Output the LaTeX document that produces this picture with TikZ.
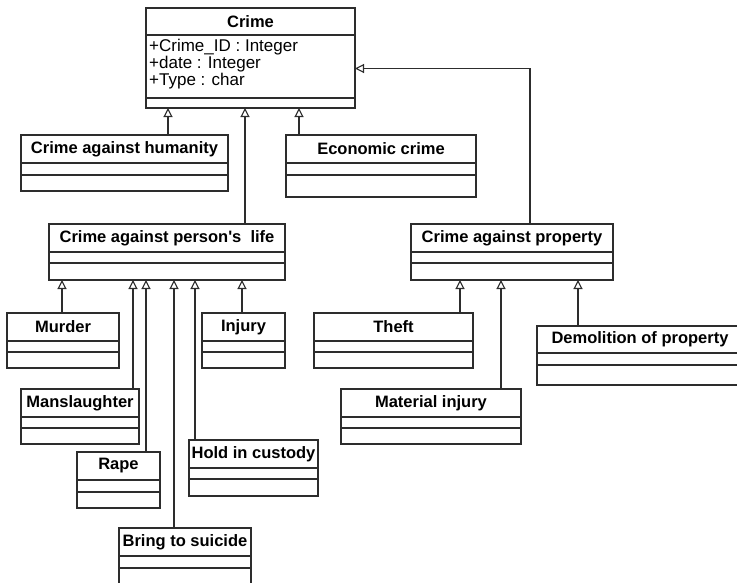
\documentclass[tikz,border=0pt]{standalone}
\usepackage{fontspec}
\setmainfont{Liberation Sans}
\usepackage{tikz}
\usetikzlibrary{arrows.meta, positioning}
\definecolor{umlline}{RGB}{45, 45, 45}
\tikzset{
    classbox/.style={
        rectangle,
        draw=umlline,
        line width=1.3pt,
        fill=white,
        inner sep=0pt,
        outer sep=0pt
    },
    classtitle/.style={
        classbox,
        anchor=north west,
        font=\fontsize{16.5}{18}\selectfont\bfseries
    },
    attrtext/.style={
        inner sep=0pt,
        align=left,
        font=\fontsize{17}{17}\selectfont
    },
    inherit/.style={
        draw=umlline,
        line width=1.3pt,
        -{Triangle[open, length=9pt, width=9pt, line width=1.1pt]}
    }
}
% class box: name, position, width, title height, attr height, op height, title
\newcommand{\umlclass}[7]{%
    \node[classtitle, minimum width=#3, minimum height=#4] (#1) at #2 {#7};
    \node[classbox, minimum width=#3, minimum height=#5, below=0pt of #1] (#1-a) {};
    \node[classbox, minimum width=#3, minimum height=#6, below=0pt of #1-a] (#1-b) {};
}

\begin{document}
\begin{tikzpicture}[x=1pt, y=-1pt]
        \useasboundingbox (0,0) rectangle (737,582);
        \clip (0,0) rectangle (737,582);

        % Root class
        \umlclass{crime}{(146,8)}{209}{27}{63}{10}{Crime}
        \node[attrtext, anchor=north west] (crime-attr) at ([xshift=3pt, yshift=-4pt]crime-a.north west)
            {+Crime\_ID : Integer\\+date : Integer\\+Type : char};

        % First level
        \umlclass{human}{(21,135)}{207}{28}{12}{16}{Crime against humanity}
        \umlclass{econ}{(286,135)}{190}{28}{12}{22}{Economic crime}
        \umlclass{life}{(49,224)}{236}{28}{11}{17}{Crime against person\textquotesingle s\ \ life}
        \umlclass{prop}{(411,224)}{202}{28}{11}{17}{Crime against property}

        % Crimes against person's life
        \umlclass{murder}{(7,313)}{112}{28}{11}{16}{Murder}
        \umlclass{injury}{(202,313)}{83}{28}{11}{16}{Injury}
        \umlclass{mansl}{(21,389)}{118}{28}{11}{16}{Manslaughter}
        \umlclass{rape}{(77,452)}{83}{28}{12}{16}{Rape}
        \umlclass{custody}{(189,440)}{129}{28}{11}{17}{Hold in custody}
        \umlclass{suicide}{(119,528)}{132}{28}{12}{24}{Bring to suicide}

        % Crimes against property
        \umlclass{theft}{(314,313)}{159}{28}{11}{16}{Theft}
        \umlclass{demol}{(537,326)}{206}{27}{12}{20}{Demolition of property}
        \umlclass{material}{(341,389)}{180}{28}{11}{16}{Material injury}

        % Generalisations to Crime
        \draw[inherit] ([xshift=147pt]human.north west) -- ([xshift=147pt]human.north west |- crime-b.south);
        \draw[inherit] ([xshift=13pt]econ.north west) -- ([xshift=13pt]econ.north west |- crime-b.south);
        \draw[inherit] ([xshift=196pt]life.north west) -- ([xshift=196pt]life.north west |- crime-b.south);
        \draw[inherit] ([xshift=119pt]prop.north west) |- ([yshift=-2pt]crime-a.east);

        % Generalisations to Crime against person's life
        \draw[inherit] ([xshift=55pt]murder.north west) -- ([xshift=55pt]murder.north west |- life-b.south);
        \draw[inherit] ([xshift=112pt]mansl.north west) -- ([xshift=112pt]mansl.north west |- life-b.south);
        \draw[inherit] ([xshift=69pt]rape.north west) -- ([xshift=69pt]rape.north west |- life-b.south);
        \draw[inherit] ([xshift=55pt]suicide.north west) -- ([xshift=55pt]suicide.north west |- life-b.south);
        \draw[inherit] ([xshift=6pt]custody.north west) -- ([xshift=6pt]custody.north west |- life-b.south);
        \draw[inherit] ([xshift=40pt]injury.north west) -- ([xshift=40pt]injury.north west |- life-b.south);

        % Generalisations to Crime against property
        \draw[inherit] ([xshift=146pt]theft.north west) -- ([xshift=146pt]theft.north west |- prop-b.south);
        \draw[inherit] ([xshift=160pt]material.north west) -- ([xshift=160pt]material.north west |- prop-b.south);
        \draw[inherit] ([xshift=41pt]demol.north west) -- ([xshift=41pt]demol.north west |- prop-b.south);
    \end{tikzpicture}
\end{document}
